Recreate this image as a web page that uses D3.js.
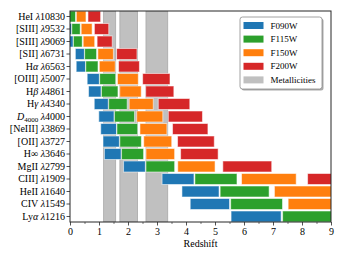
<!DOCTYPE html>
<html>
<head>
<meta charset="utf-8">
<script src="https://cdn.jsdelivr.net/npm/d3@7"></script>
<style>
  body { margin: 0; background: #fff; }
  svg { display: block; font-family: "Liberation Serif", "DejaVu Serif", serif; }
</style>
</head>
<body>
<script>
// emission lines, top to bottom; each label is a list of [text, style] parts
const lineLabels = [
  [['HeI '], ['λ', 'i'], ['10830']],
  [['[SIII] '], ['λ', 'i'], ['9532']],
  [['[SIII] '], ['λ', 'i'], ['9069']],
  [['[SII] '], ['λ', 'i'], ['6731']],
  [['H'], ['α', 'i'], [' '], ['λ', 'i'], ['6563']],
  [['[OIII] '], ['λ', 'i'], ['5007']],
  [['H'], ['β', 'i'], [' '], ['λ', 'i'], ['4861']],
  [['H'], ['γ', 'i'], [' '], ['λ', 'i'], ['4340']],
  [['D', 'i'], ['4000', 'sub'], [' '], ['λ', 'i'], ['4000']],
  [['[NeIII] '], ['λ', 'i'], ['3869']],
  [['[OII] '], ['λ', 'i'], ['3727']],
  [['H∞ '], ['λ', 'i'], ['3646']],
  [['MgII '], ['λ', 'i'], ['2799']],
  [['CIII] '], ['λ', 'i'], ['1909']],
  [['HeII '], ['λ', 'i'], ['1640']],
  [['CIV '], ['λ', 'i'], ['1549']],
  [['Ly'], ['α', 'i'], [' '], ['λ', 'i'], ['1216']]
];

// redshift coverage [zmin, zmax] of each line in each filter
const f090w = [
  [-0.264, -0.070], [-0.164, 0.056], [-0.121, 0.110], [0.184, 0.496], [0.214, 0.534],
  [0.592, 1.011], [0.640, 1.072], [0.836, 1.320], [0.993, 1.518], [1.060, 1.603],
  [1.138, 1.702], [1.186, 1.762], [1.847, 2.598], [3.175, 4.275], [3.860, 5.140],
  [4.145, 5.501], [5.554, 7.281]
];
const f115w = [
  [-0.065, 0.191], [0.063, 0.353], [0.117, 0.422], [0.505, 0.917], [0.544, 0.966],
  [1.023, 1.576], [1.084, 1.654], [1.334, 1.972], [1.533, 2.225], [1.618, 2.334],
  [1.718, 2.461], [1.778, 2.538], [2.619, 3.609], [4.306, 5.758], [5.177, 6.866],
  [5.540, 7.328], [7.331, 9.609]
];
const f150w = [
  [0.219, 0.551], [0.385, 0.762], [0.455, 0.852], [0.961, 1.496], [1.011, 1.560],
  [1.636, 2.355], [1.716, 2.456], [2.041, 2.871], [2.300, 3.200], [2.412, 3.342],
  [2.542, 3.508], [2.620, 3.608], [3.716, 5.002], [5.915, 7.800], [7.049, 9.244],
  [7.522, 9.846], [9.855, 12.81]
];
const f200w = [
  [0.620, 1.056], [0.841, 1.336], [0.935, 1.456], [1.607, 2.309], [1.674, 2.393],
  [2.505, 3.448], [2.610, 3.581], [3.044, 4.131], [3.388, 4.568], [3.536, 4.756],
  [3.709, 4.975], [3.814, 5.108], [5.270, 6.956], [8.193, 10.666], [9.701, 12.579],
  [10.330, 13.377], [13.43, 17.31]
];

const metallicityBands = [[1.16, 1.575], [1.72, 2.33], [2.62, 3.37]];
const xTicks = [0, 1, 2, 3, 4, 5, 6, 7, 8, 9];

const filters = [
  { name: 'F090W', color: '#1f77b4', ranges: f090w },
  { name: 'F115W', color: '#2ca02c', ranges: f115w },
  { name: 'F150W', color: '#ff7f0e', ranges: f150w },
  { name: 'F200W', color: '#d62728', ranges: f200w }
];

const width = 344, height = 258;
const margin = { top: 11, right: 13, bottom: 36, left: 70 };
const innerW = width - margin.left - margin.right;
const innerH = height - margin.top - margin.bottom;
const axisColor = '#262626';

const svg = d3.select('body').append('svg')
  .attr('width', width)
  .attr('height', height);

const x = d3.scaleLinear().domain([0, 9]).range([0, innerW]);
const y = d3.scaleLinear().domain([-0.44, lineLabels.length - 1 + 0.44]).range([0, innerH]);
const barH = y(0.88) - y(0);

const g = svg.append('g').attr('transform', `translate(${margin.left},${margin.top})`);

svg.append('defs').append('clipPath').attr('id', 'plot')
  .append('rect').attr('width', innerW).attr('height', innerH);

const plot = g.append('g').attr('clip-path', 'url(#plot)');

plot.selectAll('rect.band')
  .data(metallicityBands)
  .enter()
  .append('rect')
  .attr('class', 'band')
  .attr('x', d => x(d[0]))
  .attr('width', d => x(d[1]) - x(d[0]))
  .attr('y', 0)
  .attr('height', innerH)
  .attr('fill', '#c0c0c0')
  .attr('stroke', '#a8a8a8')
  .attr('stroke-width', 0.8);

filters.forEach(f => {
  plot.append('g').selectAll('rect')
    .data(f.ranges)
    .enter()
    .append('rect')
    .attr('x', d => x(d[0]))
    .attr('width', d => x(d[1]) - x(d[0]))
    .attr('y', (d, i) => y(i) - barH / 2)
    .attr('height', barH)
    .attr('fill', f.color)
    .attr('stroke', '#fff')
    .attr('stroke-opacity', 0.55)
    .attr('stroke-width', 1);
});

// frame
g.append('rect')
  .attr('width', innerW)
  .attr('height', innerH)
  .attr('fill', 'none')
  .attr('stroke', axisColor)
  .attr('stroke-width', 1);

// x axis
const xAxis = g.append('g')
  .attr('transform', `translate(0,${innerH})`)
  .call(d3.axisBottom(x).tickValues(xTicks).tickSize(3.5).tickPadding(2));
g.append('g')
  .attr('transform', `translate(0,${innerH})`)
  .call(d3.axisBottom(x).tickValues(d3.range(0.5, 9, 1)).tickSize(2).tickFormat(''))
  .call(a => a.select('.domain').remove())
  .selectAll('line').attr('stroke', axisColor).attr('stroke-width', 0.6);
xAxis.select('.domain').remove();
xAxis.selectAll('line').attr('stroke', axisColor).attr('stroke-width', 0.8);
xAxis.selectAll('text')
  .attr('font-family', '"Liberation Serif", serif')
  .attr('font-size', 10)
  .attr('fill', '#000');

svg.append('text')
  .attr('x', margin.left + innerW / 2)
  .attr('y', height - 11)
  .attr('text-anchor', 'middle')
  .attr('font-size', 10)
  .attr('fill', '#000')
  .text('Redshift');

// y axis ticks and labels
const yAxis = g.append('g');
yAxis.selectAll('line')
  .data(lineLabels)
  .enter()
  .append('line')
  .attr('x1', -3.5)
  .attr('x2', 0)
  .attr('y1', (d, i) => y(i))
  .attr('y2', (d, i) => y(i))
  .attr('stroke', axisColor)
  .attr('stroke-width', 0.8);

yAxis.selectAll('text')
  .data(lineLabels)
  .enter()
  .append('text')
  .attr('x', -5)
  .attr('y', (d, i) => y(i))
  .attr('dy', '0.34em')
  .attr('text-anchor', 'end')
  .attr('font-size', 10)
  .attr('fill', '#000')
  .each(function (parts) {
    const t = d3.select(this);
    parts.forEach(([txt, style]) => {
      const s = t.append('tspan').text(txt);
      if (style === 'i') s.attr('font-style', 'italic');
      if (style === 'sub') {
        s.attr('font-size', 7).attr('baseline-shift', '-2.2');
      }
    });
  });

// legend
const legendItems = filters.map(f => ({ name: f.name, color: f.color }))
  .concat([{ name: 'Metallicities', color: '#c0c0c0' }]);
const lg = svg.append('g').attr('transform', 'translate(240,17)');
lg.append('rect')
  .attr('x', 1.5).attr('y', 1.5)
  .attr('width', 82).attr('height', 72)
  .attr('rx', 2.5)
  .attr('fill', '#555').attr('opacity', 0.5);
lg.append('rect')
  .attr('width', 82).attr('height', 72)
  .attr('rx', 2.5)
  .attr('fill', '#fff')
  .attr('stroke', '#8a8a8a')
  .attr('stroke-width', 0.8);
lg.selectAll('rect.sw')
  .data(legendItems)
  .enter()
  .append('rect')
  .attr('class', 'sw')
  .attr('x', 3.5)
  .attr('y', (d, i) => 5 + i * 13.6)
  .attr('width', 20)
  .attr('height', 7)
  .attr('fill', d => d.color);
lg.selectAll('text')
  .data(legendItems)
  .enter()
  .append('text')
  .attr('x', 30.5)
  .attr('y', (d, i) => 8.5 + i * 13.6)
  .attr('dy', '0.34em')
  .attr('font-size', 9)
  .attr('fill', '#000')
  .text(d => d.name);
</script>
</body>
</html>
